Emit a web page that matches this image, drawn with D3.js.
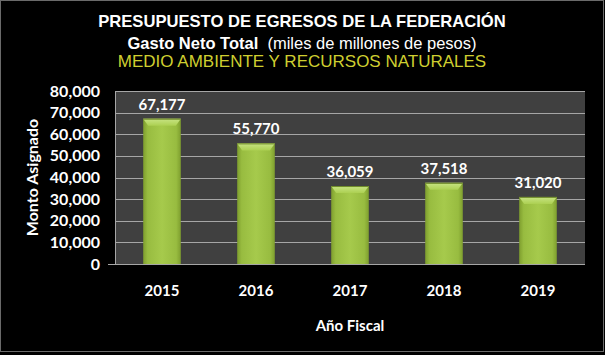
<!DOCTYPE html>
<html><head><meta charset="utf-8">
<script src="https://cdn.jsdelivr.net/npm/d3@7"></script>
<style>html,body{margin:0;padding:0;background:#000;}svg{display:block;}</style>
</head><body>
<div id="chart"></div>
<script>
const years = ["2015","2016","2017","2018","2019"];
const values = [67177, 55770, 36059, 37518, 31020];
const yTicks = [0,10000,20000,30000,40000,50000,60000,70000,80000];

const W = 605, H = 355;
const m = {left:115, right:20, top:91, bottom:91};
const svg = d3.select("#chart").append("svg").attr("width",W).attr("height",H);
svg.append("rect").attr("x",0).attr("y",0).attr("width",W).attr("height",H).attr("fill","#000");
svg.append("rect").attr("x",0.5).attr("y",0.5).attr("width",603).attr("height",351)
  .attr("fill","none").attr("stroke","#6a6a6a");

const x = d3.scaleBand().domain(years).range([m.left, W-m.right]).paddingInner(0.6).paddingOuter(0.3);
const y = d3.scaleLinear().domain([0,80000]).range([H-m.bottom, m.top]);

const defs = svg.append("defs");
const g1 = defs.append("linearGradient").attr("id","barG").attr("x1","0").attr("x2","1").attr("y1","0").attr("y2","0");
[["0%","#7e9e2e"],["12%","#98bc40"],["50%","#a6ca4c"],["88%","#98bc40"],["100%","#7e9e2e"]]
  .forEach(([o,c])=>g1.append("stop").attr("offset",o).attr("stop-color",c));
const g2 = defs.append("linearGradient").attr("id","topG").attr("x1","0").attr("x2","0").attr("y1","0").attr("y2","1");
[["0%","#c8e484"],["100%","#acd052"]].forEach(([o,c])=>g2.append("stop").attr("offset",o).attr("stop-color",c));

// plot area
svg.append("rect").attr("x",m.left).attr("y",m.top).attr("width",W-m.right-m.left).attr("height",y(0)-m.top).attr("fill","#404040");

// gridlines
svg.append("g").selectAll("line").data(yTicks).join("line")
  .attr("x1",d=> d===0 ? m.left-7 : m.left).attr("x2",W-m.right)
  .attr("y1",d=>Math.round(y(d))+0.5).attr("y2",d=>Math.round(y(d))+0.5)
  .attr("stroke","#a6a6a6").attr("stroke-width",1);
svg.append("line").attr("x1",m.left+0.5).attr("x2",m.left+0.5).attr("y1",m.top).attr("y2",y(0))
  .attr("stroke","#a6a6a6");

// y tick labels
svg.append("g").selectAll("text").data(yTicks).join("text")
  .attr("x",100).attr("y",d=>y(d)+5.5).attr("text-anchor","end")
  .attr("font-family","Lato, sans-serif").attr("font-weight","bold").attr("font-size",16)
  .attr("fill","#fff").text(d=>d3.format(",")(d));

// bars
const bars = svg.append("g").selectAll("g").data(years).join("g");
bars.append("rect").attr("x",d=>x(d)).attr("width",x.bandwidth())
  .attr("y",(d,i)=>y(values[i])).attr("height",(d,i)=>y(0)-y(values[i]))
  .attr("fill","url(#barG)");
bars.append("path").attr("d",(d,i)=>{
  const x0=x(d), x1=x(d)+x.bandwidth(), t=y(values[i]), b=5, h=7;
  return `M${x0},${t}L${x1},${t}L${x1-b},${t+h}L${x0+b},${t+h}Z`;
}).attr("fill","url(#topG)");
bars.append("line").attr("x1",d=>x(d)).attr("x2",d=>x(d)+x.bandwidth())
  .attr("y1",(d,i)=>y(values[i])+0.5).attr("y2",(d,i)=>y(values[i])+0.5)
  .attr("stroke","#6f8a2a").attr("stroke-width",1);

// data labels
svg.append("g").selectAll("text").data(years).join("text")
  .attr("x",d=>x(d)+x.bandwidth()/2).attr("y",(d,i)=>y(values[i])-9)
  .attr("text-anchor","middle").attr("font-family","Lato, sans-serif").attr("font-weight","bold")
  .attr("font-size",15).attr("fill","#fff").text((d,i)=>d3.format(",")(values[i]));

// x labels
svg.append("g").selectAll("text").data(years).join("text")
  .attr("x",d=>x(d)+x.bandwidth()/2).attr("y",296).attr("text-anchor","middle")
  .attr("font-family","Lato, sans-serif").attr("font-weight","bold").attr("font-size",15)
  .attr("fill","#fff").text(d=>d);

// axis titles
svg.append("text").attr("x",(m.left+W-m.right)/2).attr("y",331).attr("text-anchor","middle")
  .attr("font-family","Lato, sans-serif").attr("font-weight","bold").attr("font-size",15)
  .attr("fill","#fff").text("Año Fiscal");
svg.append("text").attr("transform",`translate(38,${(m.top+y(0))/2}) rotate(-90)`).attr("text-anchor","middle")
  .attr("font-family","Lato, sans-serif").attr("font-weight","bold").attr("font-size",16)
  .attr("fill","#fff").text("Monto Asignado");

// titles
const cx = 302;
svg.append("text").attr("x",cx).attr("y",27).attr("text-anchor","middle")
  .attr("font-family","'Liberation Sans', Arial, sans-serif").attr("font-weight","bold").attr("font-size",16.6)
  .attr("fill","#fff").text("PRESUPUESTO DE EGRESOS DE LA FEDERACIÓN");
const t2 = svg.append("text").attr("x",cx).attr("y",48.5).attr("text-anchor","middle")
  .attr("font-family","'Liberation Sans', Arial, sans-serif").attr("font-size",16.5).attr("fill","#fff")
  .attr("xml:space","preserve").style("white-space","pre");
t2.append("tspan").attr("font-weight","bold").text("Gasto Neto Total");
t2.append("tspan").text("  (miles de millones de pesos)");
svg.append("text").attr("x",cx).attr("y",67).attr("text-anchor","middle")
  .attr("font-family","'Liberation Sans', Arial, sans-serif").attr("font-size",17)
  .attr("fill","#cfcf30").text("MEDIO AMBIENTE Y RECURSOS NATURALES");
</script>
</body></html>
